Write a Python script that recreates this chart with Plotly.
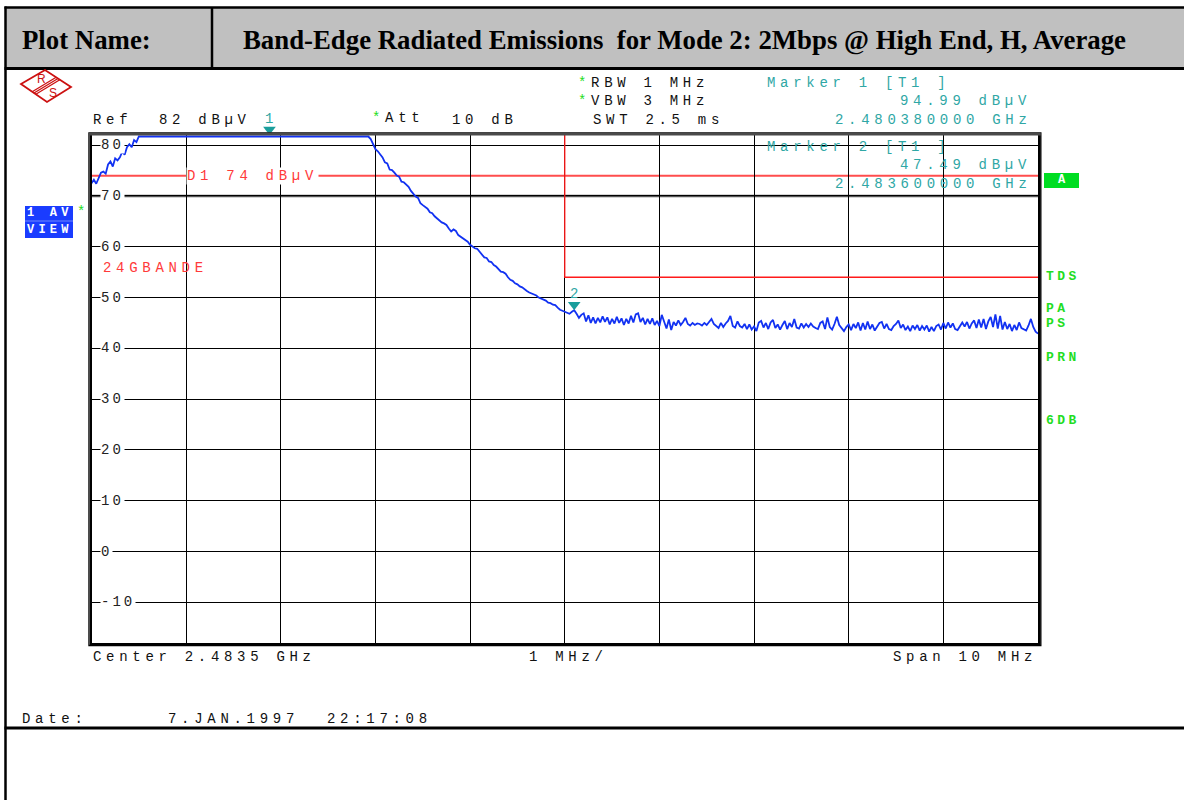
import numpy as np
import plotly.graph_objects as go

W, H = 1184, 800

# ---------------- data ----------------
freq_start_ghz = 2.4785
freq_stop_ghz = 2.4885

rise_dbuv = [72.5, 73.2, 72.4, 73.6, 74.6, 74.8, 74.4, 76.2, 76.8, 75.8,
             77.4, 77.0, 77.6, 78.7, 78.1, 79.6, 80.2, 79.6, 81.0, 80.6]

plateau_dbuv = [81.7, 81.7, 81.7, 81.7, 81.7, 81.7, 81.7, 81.7, 81.7, 81.7,
                81.7, 81.7, 81.7, 81.7, 81.7, 81.7, 81.7, 81.7, 81.7, 81.7,
                81.7, 81.7, 81.7, 81.7, 81.7, 81.7, 81.7, 81.7, 81.7, 81.7,
                81.7, 81.7, 81.7, 81.7, 81.7, 81.7, 81.7, 81.7, 81.7, 81.7,
                81.7, 81.7, 81.7, 81.7, 81.7, 81.7, 81.7, 81.7, 81.7, 81.7,
                81.7, 81.7, 81.7, 81.7, 81.7, 81.7, 81.7, 81.7, 81.7, 81.7,
                81.7, 81.7, 81.7, 81.7, 81.7, 81.7, 81.7, 81.7, 81.7, 81.7,
                81.7, 81.7, 81.7, 81.7, 81.7, 81.7, 81.7, 81.7, 81.7, 81.7,
                81.7, 81.7, 81.7, 81.7, 81.7, 81.7, 81.7, 81.7, 81.7, 81.7,
                81.7, 81.7, 81.7, 81.7, 81.7, 81.7, 81.7, 81.7]

falloff_dbuv = [81.2, 80.2, 79.2, 78.8, 78.2, 77.6, 76.6, 76.4, 75.2, 75.1,
                74.6, 74.0, 73.8, 72.8, 72.7, 72.2, 71.8, 71.0, 70.4, 69.9,
                69.6, 68.6, 68.2, 67.8, 67.5, 66.8, 66.6, 66.0, 65.6, 65.3,
                64.8, 64.6, 64.3, 63.6, 63.0, 63.4, 63.1, 62.3, 62.0, 61.7,
                61.3, 61.0, 60.4, 60.1, 59.7, 59.6, 59.1, 58.5, 57.9, 57.8,
                57.1, 57.0, 56.4, 56.1, 55.5, 55.1, 55.0, 54.7, 54.0, 53.5,
                53.3, 52.8, 52.6, 52.2, 52.0, 51.6, 51.3, 51.0, 50.8, 50.6,
                50.4, 50.0, 49.8, 49.6, 49.4, 49.0, 48.9, 48.6, 48.5, 48.0,
                47.6, 47.4, 47.2, 47.0, 46.8, 47.2, 47.5, 46.8, 46.0, 46.6,
                46.9]

noise_floor_dbuv = [45.3, 46.5, 45.0, 46.1, 44.9, 46.0, 45.1, 46.3, 45.2, 46.1,
                    44.7, 45.8, 44.9, 46.2, 45.0, 45.9, 44.6, 45.8, 44.9, 46.4,
                    45.1, 46.7, 46.9, 45.2, 46.0, 44.7, 45.8, 44.8, 45.9, 44.6,
                    45.4, 44.4, 46.6, 45.1, 43.9, 45.7, 43.6, 45.2, 44.5, 45.5,
                    44.6, 45.2, 46.0, 44.8, 44.5, 45.0, 44.6, 44.9, 44.8, 44.5,
                    45.0, 44.6, 45.1, 45.8, 44.8, 44.4, 44.0, 45.0, 44.2, 44.9,
                    45.4, 46.4, 44.4, 44.1, 45.3, 44.4, 44.1, 44.8, 43.8, 44.7,
                    43.7, 44.3, 43.4, 45.1, 45.4, 44.1, 45.0, 43.8, 45.1, 45.6,
                    44.0, 44.7, 43.7, 44.6, 45.4, 43.8, 45.0, 44.2, 45.8, 44.1,
                    43.9, 44.9, 44.1, 44.8, 44.2, 44.9, 44.3, 44.0, 43.8, 45.0,
                    45.3, 43.8, 46.1, 44.2, 43.7, 44.8, 46.2, 44.6, 44.0, 43.4,
                    44.2, 44.7, 43.6, 44.8, 44.0, 45.1, 43.5, 45.0, 43.7, 45.3,
                    43.8, 44.7, 43.5, 44.4, 45.0, 45.2, 43.9, 44.8, 43.8, 43.6,
                    44.4, 44.8, 45.5, 44.0, 44.7, 43.6, 44.3, 43.4, 44.5, 43.8,
                    44.6, 43.5, 44.4, 43.7, 44.5, 43.3, 44.2, 43.4, 44.4, 44.7,
                    43.7, 45.0, 43.9, 45.1, 44.1, 44.9, 43.8, 43.6, 44.5, 45.1,
                    44.3, 45.2, 43.9, 44.9, 45.5, 44.0, 45.7, 44.1, 45.8, 43.8,
                    45.3, 46.2, 44.2, 46.7, 43.9, 46.4, 43.7, 45.2, 43.8, 44.8,
                    43.4, 44.6, 43.6, 45.1, 44.0, 43.8, 43.5, 44.5, 45.8, 44.2,
                    43.3, 42.9]

trace_dbuv = rise_dbuv + plateau_dbuv + falloff_dbuv + noise_floor_dbuv
trace_freq_ghz = np.linspace(freq_start_ghz, freq_stop_ghz, len(trace_dbuv))

ref_level_dbuv = 82
bottom_level_dbuv = -18
y_grid_values = [80, 70, 60, 50, 40, 30, 20, 10, 0, -10]
y_grid_labels = ["80", "70", "60", "50", "40", "30", "20", "10", "0", "-10"]

display_line_d1_dbuv = 74
limit_freq_ghz = [2.4785, 2.4835, 2.4835, 2.4885]
limit_dbuv = [110, 110, 54, 54]

marker_names = ["1", "2"]
marker_freq_ghz = [2.48038, 2.4836]
marker_level_dbuv = [94.99, 47.49]

# ---------------- layout helpers (pixel geometry) ----------------
X0, X1 = 91.5, 1038.0     # plot area, px
Y0, Y1 = 135.0, 643.0
DB_PER_PX = (ref_level_dbuv - bottom_level_dbuv) / (Y1 - Y0)
HEADROOM_PX = 22          # room above the graticule for the marker glyphs


def px(x):
    return x / W


def py(y):
    return 1 - y / H


MONO = "Liberation Mono, Courier New, monospace"
SERIF = "Liberation Serif, Times New Roman, serif"
BLACK = "#111111"
TEAL = "#2fa7a5"
GREEN = "#22dd22"
RED = "#ff3a3a"
BLUE = "#1232f2"

annotations = []
shapes = []


def sp(s, ls, color=None):
    st = f"letter-spacing:{ls}px"
    if color:
        st += f";color:{color}"
    return f'<span style="{st}">{s}</span>'


def txt(x, y, text, color=BLACK, size=14, family=MONO, bg=None,
        yref="paper", xanchor="left", bold=False):
    if bold:
        text = f"<b>{text}</b>"
    a = dict(x=px(x), y=(py(y) if yref == "paper" else y), xref="paper",
             yref=yref, text=text, showarrow=False, xanchor=xanchor,
             yanchor="middle", borderpad=0,
             font=dict(family=family, size=size, color=color))
    if bg:
        a["bgcolor"] = bg
    annotations.append(a)


def line(x0, y0, x1, y1, color, width, layer="above"):
    shapes.append(dict(type="line", xref="paper", yref="paper",
                       x0=px(x0), y0=py(y0), x1=px(x1), y1=py(y1),
                       line=dict(color=color, width=width), layer=layer))


def rect(x0, y0, x1, y1, fill, lcolor=None, lwidth=0, layer="above"):
    shapes.append(dict(type="rect", xref="paper", yref="paper",
                       x0=px(x0), y0=py(y0), x1=px(x1), y1=py(y1),
                       fillcolor=fill,
                       line=dict(color=lcolor or fill, width=lwidth),
                       layer=layer))


LS = 4.7  # letter spacing of the analyser's wide mono font

# ---------------- header table ----------------
rect(6, 7, 1184, 69, "#c0c0c0", layer="below")
line(4.5, 7.5, 1184, 7.5, "#000", 2.5)
line(4.5, 68.5, 1184, 68.5, "#000", 3)
line(5.5, 6.5, 5.5, 800, "#000", 2.5)
line(212, 7, 212, 69, "#000", 2.5)
line(4.5, 728, 1184, 728, "#000", 3)
txt(21, 40, "Plot Name:", size=26.8, family=SERIF, bold=True, color="#000")
txt(242, 40, "Band-Edge Radiated Emissions&nbsp; for Mode 2: 2Mbps @ High End, H, Average",
    size=26.8, family=SERIF, bold=True, color="#000")

# ---------------- R&S logo ----------------
L, T, R, B = (21, 84), (45, 70), (71, 87), (47, 102)
shapes.append(dict(type="path", xref="paper", yref="paper",
                   path=f"M {px(L[0])},{py(L[1])} L {px(T[0])},{py(T[1])} "
                        f"L {px(R[0])},{py(R[1])} L {px(B[0])},{py(B[1])} Z",
                   line=dict(color="#cc1111", width=1.8), fillcolor="rgba(0,0,0,0)"))
for t in (0.43, 0.5, 0.57):
    ax_, ay_ = L[0] + (B[0] - L[0]) * t, L[1] + (B[1] - L[1]) * t
    bx_, by_ = T[0] + (R[0] - T[0]) * t, T[1] + (R[1] - T[1]) * t
    line(ax_, ay_, bx_, by_, "#cc1111", 1.3)
txt(36, 79, "R", color="#cc1111", size=12, family="Liberation Sans")
txt(48, 93, "S", color="#cc1111", size=12, family="Liberation Sans")

# ---------------- analyser header texts ----------------
txt(92, 120, sp("Ref", LS))
txt(158, 120, sp("82 dBµV", LS))
txt(371, 118, sp("*", LS, GREEN) + sp("Att", LS))
txt(451, 120, sp("10 dB", LS))
txt(577, 83, sp("*", LS, GREEN) + sp("RBW 1 MHz", LS))
txt(577, 101, sp("*", LS, GREEN) + sp("VBW 3 MHz", LS))
txt(592, 120, sp("SWT 2.5 ms", LS))

txt(766, 83, sp("Marker 1 [T1 ]", LS), color=TEAL)
txt(899, 101, sp("94.99 dBµV", LS), color=TEAL)
txt(834, 120, sp("2.480380000 GHz", LS), color=TEAL)
txt(766, 147, sp("Marker 2 [T1 ]", LS), color=TEAL)
txt(899, 165, sp("47.49 dBµV", LS), color=TEAL)
txt(834, 184, sp("2.483600000 GHz", LS), color=TEAL)

# left side trace info box
rect(25, 206, 73, 238, "#1a3cff")
line(25, 221, 73, 221, "#6f86ff", 1)
txt(26, 213, sp("1 AV", 4.2), color="#ffffff", size=12, bold=True)
txt(26, 229.5, sp("VIEW", 4.2), color="#ffffff", size=12, bold=True)
txt(76, 212, "*", color=GREEN, size=14)

# right side status labels
rect(1044, 173, 1079, 188, "#00dd22")
txt(1061.5, 180.5, "A", color="#ffffff", size=12, bold=True, xanchor="center")
for lab, yy in [("TDS", 276), ("PA", 308), ("PS", 323), ("PRN", 357), ("6DB", 420)]:
    txt(1045, yy, sp(lab, 3.4), color=GREEN, size=13, bold=True)

txt(102, 268, sp("24GBANDE", LS), color=RED)

# bottom texts
txt(92, 657, sp("Center 2.4835 GHz", LS))
txt(528, 657, sp("1 MHz/", LS))
txt(892, 657, sp("Span 10 MHz", LS))
txt(21, 719, sp("Date:", LS))
txt(167, 719, sp("7.JAN.1997", LS))
txt(326, 719, sp("22:17:08", LS))

# y grid labels inside the plot
for v, lab in zip(y_grid_values, y_grid_labels):
    txt(100, v, sp(lab, 3.0), color="#222222", size=14, bg="#ffffff", yref="y")

# D1 display line and label
shapes.append(dict(type="line", xref="paper", yref="y", x0=px(X0), x1=px(X1),
                   y0=display_line_d1_dbuv, y1=display_line_d1_dbuv,
                   line=dict(color="#ff4d4d", width=2), layer="below"))
txt(186, display_line_d1_dbuv, sp(f"D1 {display_line_d1_dbuv} dBµV", LS),
    color=RED, bg="#ffffff", yref="y")

# darker 70 dB graticule line
shapes.append(dict(type="line", xref="paper", yref="y", x0=px(X0), x1=px(X1),
                   y0=70, y1=70, line=dict(color="#555555", width=2.5), layer="below"))

# frame
shapes.append(dict(type="rect", xref="paper", yref="paper",
                   x0=px(89), x1=px(1040.8), y0=py(645.5), y1=py(133),
                   line=dict(color="#000", width=1.4), fillcolor="rgba(0,0,0,0)"))
line(89, 134, 1040.8, 134, "#4a4a4a", 3)

# ---------------- traces ----------------
fig = go.Figure()
fig.add_trace(go.Scatter(x=limit_freq_ghz, y=limit_dbuv, mode="lines",
                         line=dict(color="#ff1a1a", width=1.3), hoverinfo="skip"))
fig.add_trace(go.Scatter(x=trace_freq_ghz, y=trace_dbuv, mode="lines",
                         line=dict(color=BLUE, width=1.8), hoverinfo="skip"))

# markers: drawn on twin (invisible) axes with the same scales and a little
# headroom above the graticule, so an over-range marker sits on the top edge
tip_offset_db = 5.5 * DB_PER_PX
mk_y = [min(v, ref_level_dbuv) + tip_offset_db for v in marker_level_dbuv]
fig.add_trace(go.Scatter(x=marker_freq_ghz, y=mk_y, xaxis="x2", yaxis="y2",
                         mode="markers",
                         marker=dict(symbol="triangle-down", size=11, color="#1a9e9c",
                                     line=dict(width=0)),
                         hoverinfo="skip"))
for name, f, yv in zip(marker_names, marker_freq_ghz, mk_y):
    annotations.append(dict(x=f, y=yv, xref="x2", yref="y2", text=name,
                            showarrow=False, yshift=11, xanchor="center",
                            yanchor="middle",
                            font=dict(family=MONO, size=14, color=TEAL)))

fig.update_layout(
    width=W, height=800, margin=dict(l=0, r=0, t=0, b=0),
    paper_bgcolor="#ffffff", plot_bgcolor="rgba(0,0,0,0)",
    showlegend=False, hovermode=False,
    xaxis=dict(domain=[px(X0), px(X1)], range=[freq_start_ghz, freq_stop_ghz],
               tick0=freq_start_ghz, dtick=0.001, showgrid=True,
               gridcolor="#000000", gridwidth=1, showticklabels=False, ticks="",
               zeroline=False, showline=True, mirror=True, linecolor="#000",
               linewidth=1.5, fixedrange=True),
    yaxis=dict(domain=[py(Y1), py(Y0)], range=[bottom_level_dbuv, ref_level_dbuv],
               tickmode="array", tickvals=y_grid_values, showgrid=True,
               gridcolor="#000000", gridwidth=1, showticklabels=False, ticks="",
               zeroline=False, showline=True, mirror=True, linecolor="#000",
               linewidth=1.5, fixedrange=True),
    xaxis2=dict(domain=[px(X0), px(X1)], range=[freq_start_ghz, freq_stop_ghz],
                anchor="y2", visible=False, showgrid=False, zeroline=False,
                fixedrange=True),
    yaxis2=dict(domain=[py(Y1), py(Y0 - HEADROOM_PX)], anchor="x2",
                range=[bottom_level_dbuv, ref_level_dbuv + HEADROOM_PX * DB_PER_PX],
                visible=False, showgrid=False, zeroline=False, fixedrange=True),
    annotations=annotations, shapes=shapes,
)

fig.write_html("out.html", config={"displayModeBar": False},
               post_script="document.body.style.margin='0';")
